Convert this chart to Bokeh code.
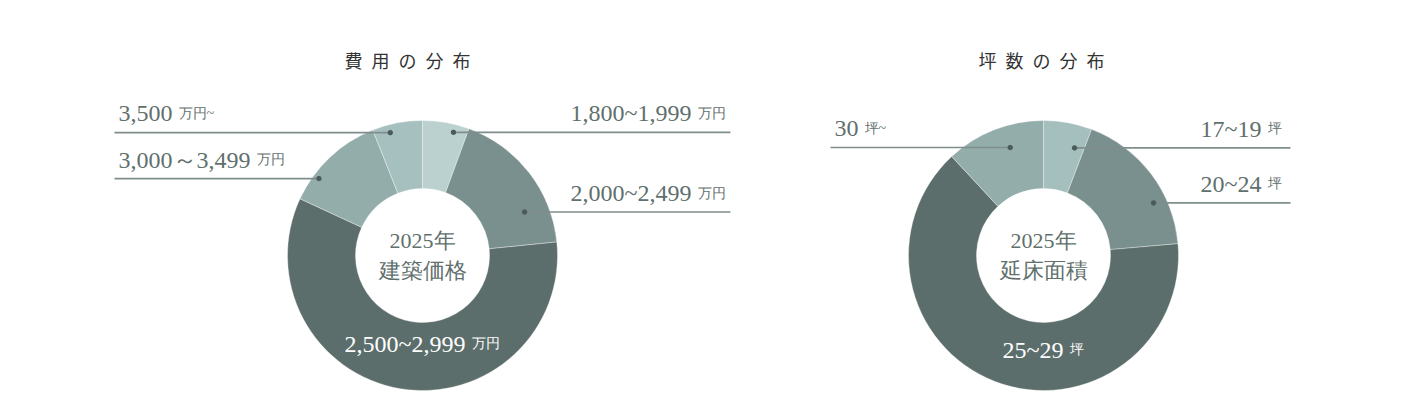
import math
from bokeh.plotting import figure
from bokeh.models import Range1d, ColumnDataSource
from bokeh.core.properties import value
from bokeh.embed import file_html
from bokeh.resources import INLINE

# ---------------- DATA ----------------
cost_title = "費用の分布"
cost_center = ["2025年", "建築価格"]
cost_labels = ["1,800~1,999", "2,000~2,499", "2,500~2,999", "3,000～3,499", "3,500"]
cost_units = ["万円", "万円", "万円", "万円", "万円~"]
cost_values = [5.6, 17.8, 58.5, 12.1, 6.0]
cost_colors = ["#bbd1d0", "#7a908e", "#5c6e6b", "#93adab", "#a6c0bf"]

area_title = "坪数の分布"
area_center = ["2025年", "延床面積"]
area_labels = ["17~19", "20~24", "25~29", "30"]
area_units = ["坪", "坪", "坪", "坪~"]
area_values = [5.8, 17.8, 64.5, 11.9]
area_colors = ["#a5bfbe", "#7a908e", "#5c6e6b", "#93adab"]

# ---------------- LAYOUT ----------------
W, H = 1388, 404
TEXT = "#5f706d"
LINE = "#7f8e8c"
DOT = "#4b5b59"
SERIF = "Liberation Serif"
CJK = "Noto Sans CJK JP"
NUM_SIZE = 24
UNIT_SIZE = 14

# leader: (slice index, fraction in slice, dot radius, side, line end x)
charts = [
    dict(title=cost_title, center=cost_center, labels=cost_labels, units=cost_units,
         values=cost_values, colors=cost_colors,
         cx=422, cy=149, r_out=135, r_in=67, title_x=407, inner_dy=80, inset=5,
         leaders=[(0, 0.70, 127, "right", 730), (1, 0.73, 111, "right", 730),
                  (3, 0.27, 129, "left", 114), (4, 0.32, 127, "left", 114)],
         inside=2),
    dict(title=area_title, center=area_center, labels=area_labels, units=area_units,
         values=area_values, colors=area_colors,
         cx=1043, cy=149, r_out=135, r_in=67, title_x=1041, inner_dy=86, inset=9,
         leaders=[(0, 0.77, 112, "right", 1290), (1, 0.68, 122, "right", 1290),
                  (3, 0.60, 113, "left", 830)],
         inside=2),
]


def text_w(s, size):
    w = 0.0
    for ch in s:
        if ch.isdigit():
            w += 0.5
        elif ch == ",":
            w += 0.25
        elif ch == "~":
            w += 0.541
        else:
            w += 1.0
    return w * size


p = figure(width=W, height=H, x_range=Range1d(0, W), y_range=Range1d(0, H),
           output_backend="svg", toolbar_location=None, min_border=0)
p.axis.visible = False
p.grid.visible = False
p.outline_line_color = None
p.background_fill_color = "white"

for c in charts:
    vals = c["values"]
    tot = float(sum(vals))
    starts, ends = [], []
    acc = 0.0
    for v in vals:
        starts.append(acc / tot * 360.0)
        acc += v
        ends.append(acc / tot * 360.0)
    src = ColumnDataSource(dict(
        x=[c["cx"]] * len(vals), y=[c["cy"]] * len(vals),
        sa=[math.radians(90 - s) for s in starts],
        ea=[math.radians(90 - e) for e in ends],
        color=c["colors"]))
    p.annular_wedge(x="x", y="y", inner_radius=c["r_in"], outer_radius=c["r_out"],
                    start_angle="sa", end_angle="ea", direction="clock",
                    fill_color="color", line_color="white", line_width=1,
                    line_alpha=0.35, source=src)

    # title
    p.text(x=[c["title_x"]], y=[H - 59], text=["\u2002".join(c["title"])],
           text_font=value(CJK), text_font_size="18px", text_color="#333333",
           text_align="center", text_baseline="middle")

    # center text
    p.text(x=[c["cx"]] * 2, y=[c["cy"] + 15, c["cy"] - 15], text=c["center"],
           text_font=value(SERIF), text_font_size="22px", text_color=TEXT,
           text_align="center", text_baseline="middle")

    # leaders
    for (i, frac, rad, side, xend) in c["leaders"]:
        ang = starts[i] + frac * (ends[i] - starts[i])
        dx = c["cx"] + rad * math.sin(math.radians(ang))
        dy = c["cy"] + rad * math.cos(math.radians(ang))
        p.line(x=[dx, xend], y=[dy, dy], line_color=LINE, line_width=1.6)
        p.scatter(x=[dx], y=[dy], size=4.5, fill_color=DOT, line_color=DOT)
        base = dy + 19
        num, unit = c["labels"][i], c["units"][i]
        if side == "left":
            x0 = xend + 4
            p.text(x=[x0], y=[base], text=[num], text_font=value(SERIF),
                   text_font_size=f"{NUM_SIZE}px", text_color=TEXT,
                   text_align="left", text_baseline="alphabetic")
            p.text(x=[x0 + text_w(num, NUM_SIZE) + 6], y=[base], text=[unit],
                   text_font=value(SERIF), text_font_size=f"{UNIT_SIZE}px",
                   text_color=TEXT, text_align="left", text_baseline="alphabetic")
        else:
            x1 = xend - c["inset"]
            p.text(x=[x1], y=[base], text=[unit], text_font=value(SERIF),
                   text_font_size=f"{UNIT_SIZE}px", text_color=TEXT,
                   text_align="right", text_baseline="alphabetic")
            p.text(x=[x1 - text_w(unit, UNIT_SIZE) - 6], y=[base], text=[num],
                   text_font=value(SERIF), text_font_size=f"{NUM_SIZE}px",
                   text_color=TEXT, text_align="right", text_baseline="alphabetic")

    # label inside largest slice
    k = c["inside"]
    num, unit = c["labels"][k], c["units"][k]
    total_w = text_w(num, NUM_SIZE) + 7 + text_w(unit, UNIT_SIZE)
    lx = c["cx"] - total_w / 2
    ly = c["cy"] - c["inner_dy"] - 8
    p.text(x=[lx], y=[ly], text=[num], text_font=value(SERIF),
           text_font_size=f"{NUM_SIZE}px", text_color="white",
           text_align="left", text_baseline="alphabetic")
    p.text(x=[lx + text_w(num, NUM_SIZE) + 7], y=[ly], text=[unit],
           text_font=value(SERIF), text_font_size=f"{UNIT_SIZE}px",
           text_color="white", text_align="left", text_baseline="alphabetic")

open("out.html", "w").write(file_html(p, INLINE))
